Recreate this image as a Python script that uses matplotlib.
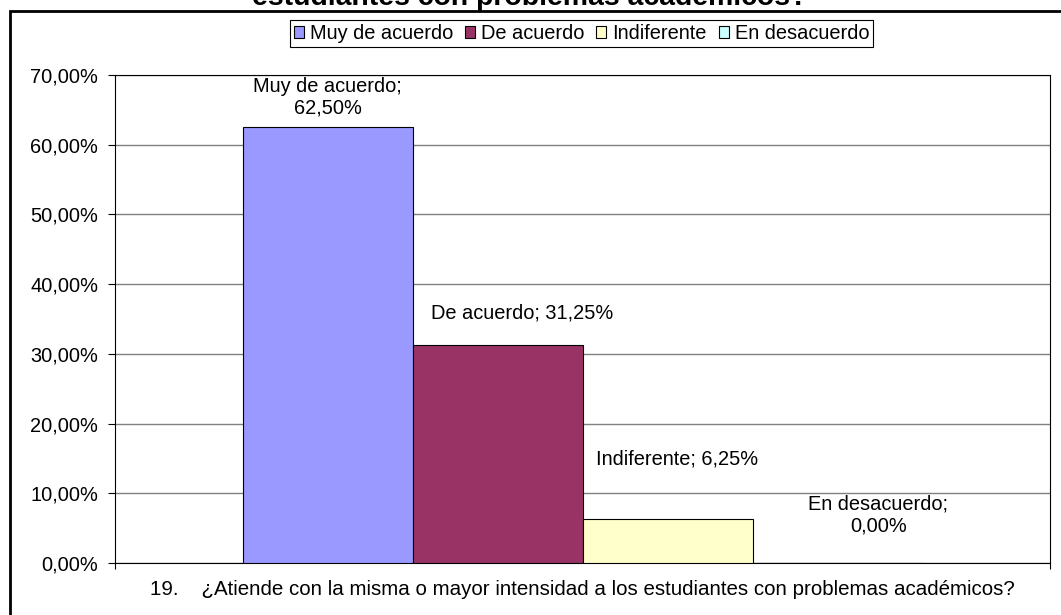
import matplotlib
matplotlib.use("Agg")
import matplotlib.pyplot as plt
from matplotlib.ticker import FuncFormatter, FixedLocator
from matplotlib.patches import Rectangle

categories = ["Muy de acuerdo", "De acuerdo", "Indiferente", "En desacuerdo"]
values = [0.625, 0.3125, 0.0625, 0.0]
colors = ["#9999FF", "#993366", "#FFFFCC", "#CCFFFF"]
label_sep = ["\n", " ", " ", "\n"]
yticks = [0.0, 0.1, 0.2, 0.3, 0.4, 0.5, 0.6, 0.7]
category_label = "19.    ¿Atiende con la misma o mayor intensidad a los estudiantes con problemas académicos?"
title_visible = "estudiantes con problemas académicos?"

W, H, DPI = 1061, 615, 100
FS = 14.4
plt.rcParams['font.family'] = ['Liberation Sans', 'DejaVu Sans']

fig = plt.figure(figsize=(W / DPI, H / DPI), dpi=DPI)
fig.patch.set_facecolor("white")

# outer chart frame (extends past right/bottom edges)
fig.add_artist(Rectangle((9.5 / W, -0.2), 1.2, 1 - 10.5 / H + 0.2,
                         transform=fig.transFigure, fill=False,
                         edgecolor="black", linewidth=2.0, clip_on=False))

left, right, top, bottom = 115, 1050, 75, 563
ax = fig.add_axes([left / W, 1 - bottom / H, (right - left) / W, (bottom - top) / H])

bw = 170 / (right - left)
bars = []
for i, (c, v, col) in enumerate(zip(categories, values, colors)):
    b = ax.bar((i - 1.5) * bw, v, width=bw, color=col, edgecolor="black",
               linewidth=0.8, label=c, zorder=3)
    bars.append(b)

offsets_px = [(0, 30), (25, 32), (9.5, 60), (41, 48)]
for i, (c, v) in enumerate(zip(categories, values)):
    txt = f"{c};{label_sep[i]}{v * 100:.2f}%".replace(".", ",")
    dx, dy = offsets_px[i]
    ax.annotate(txt, xy=((i - 1.5) * bw, v), xytext=(dx * 0.72, dy * 0.72),
                textcoords="offset points", ha="center", va="center",
                fontsize=FS, color="black", zorder=4, linespacing=1.16)

ax.set_xlim(-0.5, 0.5)
ax.set_ylim(0, 0.7)
ax.yaxis.set_major_locator(FixedLocator(yticks))
ax.yaxis.set_major_formatter(FuncFormatter(lambda v, p: f"{v * 100:.2f}%".replace(".", ",")))
ax.tick_params(axis="y", direction="out", length=5, width=0.8, pad=7.2,
               labelsize=FS, colors="black")
ax.grid(axis="y", color="#808080", linewidth=1.0, zorder=0)
ax.set_axisbelow(True)

ax.set_xticks([0])
ax.set_xticklabels([category_label], fontsize=14.8)
ax.tick_params(axis="x", which="major", length=0, pad=12)
ax.set_xticks([-0.5, 0.5], minor=True)
ax.tick_params(axis="x", which="minor", direction="out", length=4.5, width=0.8)

for s in ax.spines.values():
    s.set_color("black")
    s.set_linewidth(0.8)

leg = fig.legend(handles=[b.patches[0] for b in bars], labels=categories,
                 loc="center", bbox_to_anchor=(581.5 / W, 1 - 33.5 / H),
                 ncol=4, fontsize=FS, frameon=True, fancybox=False,
                 edgecolor="black", framealpha=1, borderpad=0.2,
                 handlelength=0.5, handleheight=0.5, handletextpad=0.3,
                 columnspacing=0.6, borderaxespad=0)
leg.get_frame().set_linewidth(0.8)

fig.text(529.5 / W, 1 - 5 / H, title_visible, ha="center", va="baseline",
         fontsize=20.4, fontweight="bold", color="black")

fig.savefig("out.png", dpi=DPI, facecolor="white")
